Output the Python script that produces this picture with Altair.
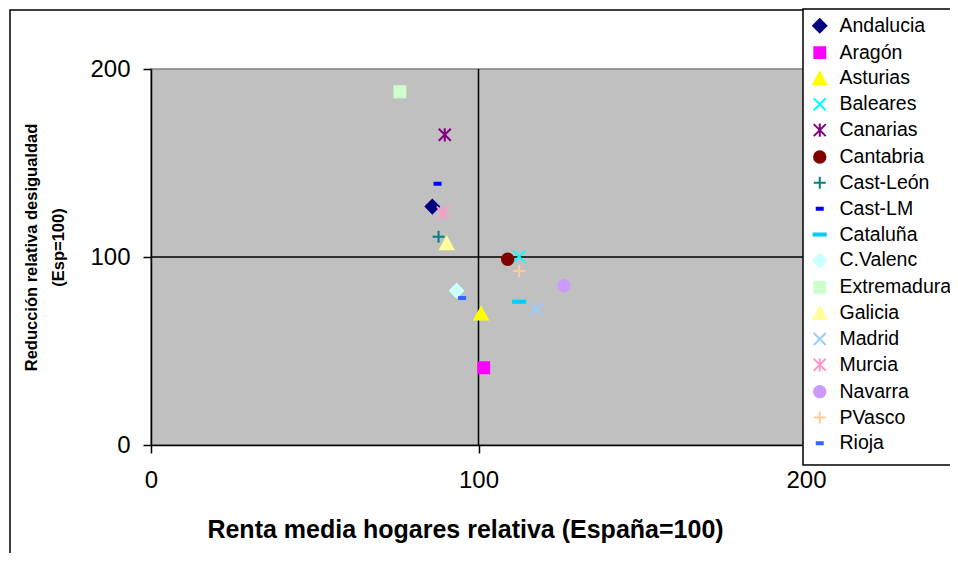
import altair as alt
import pandas as pd

regions = ["Andalucia", "Aragón", "Asturias", "Baleares", "Canarias", "Cantabria",
           "Cast-León", "Cast-LM", "Cataluña", "C.Valenc", "Extremadura", "Galicia",
           "Madrid", "Murcia", "Navarra", "PVasco", "Rioja"]
renta = [85.9, 101.6, 100.8, 112.4, 89.7, 108.9, 87.8, 87.5, 112.4, 93.3, 76.0, 90.3,
         117.8, 89.1, 126.1, 112.4, 95.0]
reduccion = [126.8, 41.1, 70.0, 100.2, 165.0, 98.8, 110.8, 139.0, 76.2, 82.1, 187.9, 107.3,
             72.3, 123.6, 84.7, 92.6, 78.2]
colors = ["#000080", "#FF00FF", "#FFFF00", "#00FFFF", "#800080", "#800000", "#008080",
          "#0000FF", "#00CCFF", "#CCFFFF", "#CCFFCC", "#FFFF99", "#99CCFF", "#FF99CC",
          "#CC99FF", "#FFCC99", "#3366FF"]

DIAMOND = "M0,-1.1L1.1,0L0,1.1L-1.1,0Z"
SQUARE = "M-0.9,-0.9L0.9,-0.9L0.9,0.9L-0.9,0.9Z"
TRIANGLE = "M0,-1L1.1,1L-1.1,1Z"
XMARK = "M-1,-1L1,1M-1,1L1,-1"
STAR = "M-1,-1L1,1M-1,1L1,-1M0,-1.1L0,1.1"
CIRCLE = "M0.95,0A0.95,0.95,0,1,1,-0.95,0A0.95,0.95,0,1,1,0.95,0Z"
PLUS = "M-1,0L1,0M0,-1L0,1"
DASH = "M-0.5,-0.17L0.5,-0.17L0.5,0.17L-0.5,0.17Z"
LDASH = "M-1,-0.17L1,-0.17L1,0.17L-1,0.17Z"
shapes = [DIAMOND, SQUARE, TRIANGLE, XMARK, STAR, CIRCLE, PLUS, DASH, LDASH,
          DIAMOND, SQUARE, TRIANGLE, XMARK, STAR, CIRCLE, PLUS, DASH]

ticks = [0, 100, 200]
ref_x = [100]
ref_y = [100]

df = pd.DataFrame({"region": regions, "x": renta, "y": reduccion})

FONT = "Liberation Sans"


def X():
    return alt.X("x:Q", scale=alt.Scale(domain=[0, 200], nice=False, zero=False),
                 axis=alt.Axis(values=ticks, title="Renta media hogares relativa (España=100)",
                               titleX=314, titleY=92, titleAlign="center",
                               titleBaseline="alphabetic"))


def Y():
    return alt.Y("y:Q", scale=alt.Scale(domain=[0, 200], nice=False, zero=False),
                 axis=alt.Axis(values=ticks,
                               title=["Reducción relativa desigualdad", "(Esp=100)"],
                               titleX=-112, titleY=178, titleAlign="center",
                               titleBaseline="bottom", titleLineHeight=27))


frame = alt.Chart(pd.DataFrame({"a": [0]})).mark_rect(
    fill="white", fillOpacity=0, stroke="black", strokeWidth=1.5
).encode(x=alt.value(-141), x2=alt.value(2000), y=alt.value(-59), y2=alt.value(2000))

legend_box = alt.Chart(pd.DataFrame({"a": [0]})).mark_rect(
    fill="white", stroke="black", strokeWidth=1.5
).encode(x=alt.value(652), x2=alt.value(2000), y=alt.value(-60), y2=alt.value(396))

vrule = alt.Chart(pd.DataFrame({"x": ref_x})).mark_rule(color="black", strokeWidth=1.5).encode(x=X())
hrule = alt.Chart(pd.DataFrame({"y": ref_y})).mark_rule(color="black", strokeWidth=1.5).encode(y=Y())

points = alt.Chart(df).mark_point(opacity=1, size=144, strokeWidth=2, filled=True).encode(
    x=X(), y=Y(),
    fill=alt.Fill("region:N", scale=alt.Scale(domain=regions, range=colors), legend=alt.Legend(title=None)),
    stroke=alt.Stroke("region:N", scale=alt.Scale(domain=regions, range=colors), legend=alt.Legend(title=None)),
    shape=alt.Shape("region:N", scale=alt.Scale(domain=regions, range=shapes), legend=alt.Legend(title=None)),
)

chart = alt.layer(frame, vrule, hrule, points, legend_box).properties(
    width=655, height=376,
    padding={"left": 143, "top": 61, "right": 144, "bottom": 108},
    autosize=alt.AutoSizeParams(type="none"),
    background="white",
).configure_view(
    fill="#C0C0C0", stroke="#808080", strokeWidth=1.5
).configure_axis(
    grid=False, domainColor="black", domainWidth=1.5, tickColor="black", tickSize=8,
    tickWidth=1.5, labelFontSize=24, labelFont=FONT, labelColor="black",
    labelFlush=False, titleFont=FONT, titleFontWeight="bold",
    titleColor="black",
).configure_axisX(
    labelPadding=15, titleFontSize=25,
).configure_axisY(
    labelPadding=13, titleFontSize=16.5,
).configure_legend(
    orient="none", legendX=652, legendY=-60, padding=7, labelFontSize=19.5, labelFont=FONT,
    labelColor="black", symbolSize=144, symbolStrokeWidth=2, rowPadding=4.85, labelOffset=10,
    labelLimit=400,
)

chart.save("out.html", embed_options={"renderer": "svg", "actions": False})
